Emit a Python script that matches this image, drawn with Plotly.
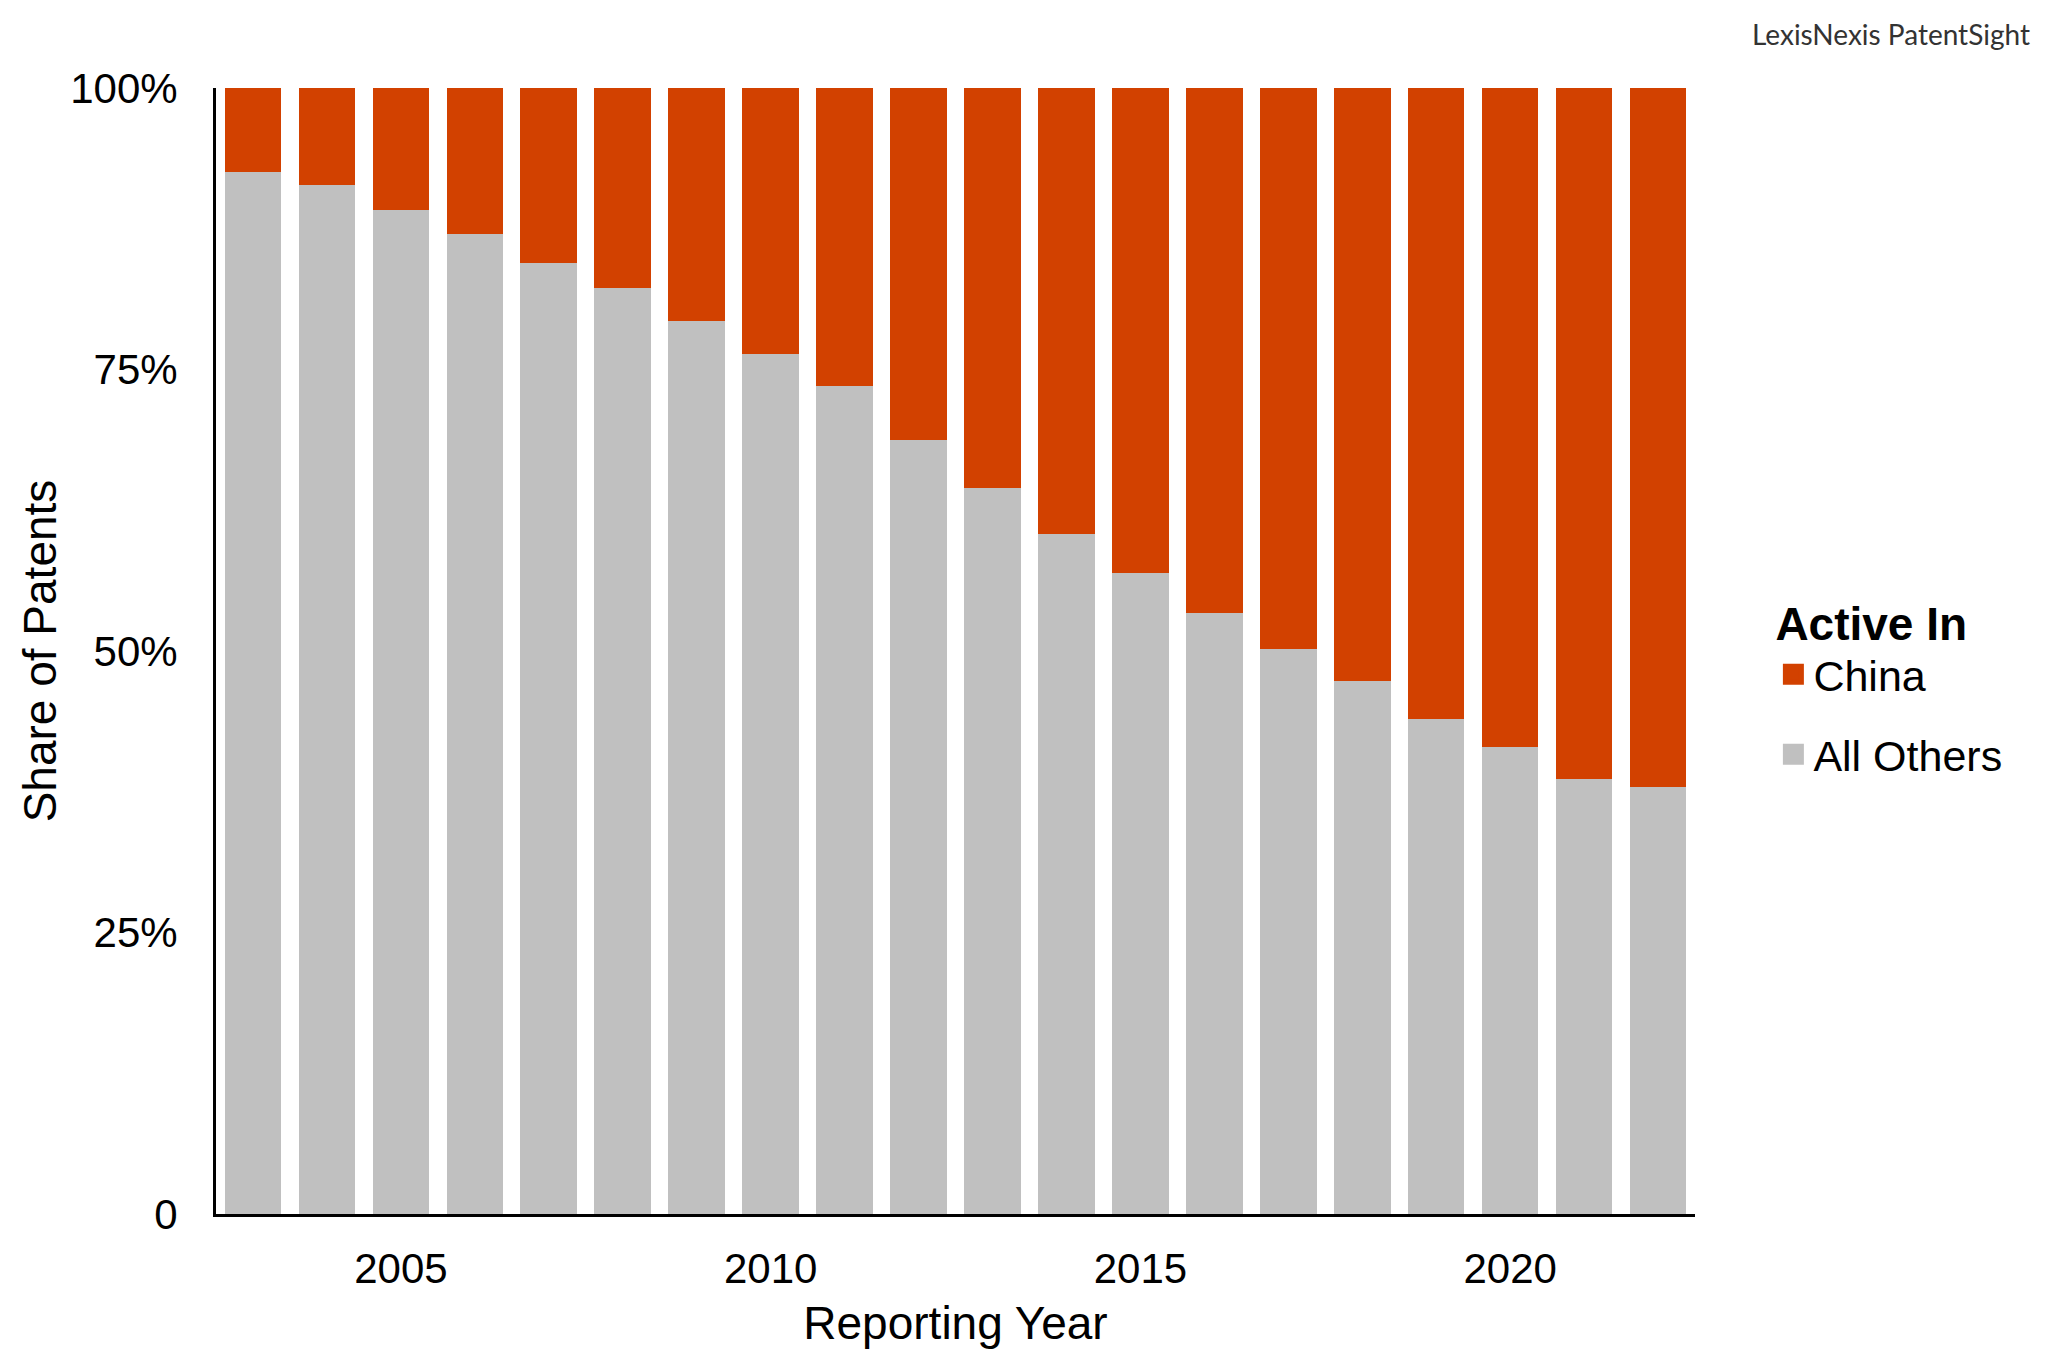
import plotly.graph_objects as go

# values (share of patents, %)
years = list(range(2003, 2023))
all_others = [92.5, 91.4, 89.2, 87.0, 84.5, 82.2, 79.3, 76.4, 73.5, 68.7,
              64.5, 60.4, 56.9, 53.4, 50.2, 47.3, 44.0, 41.5, 38.6, 37.9]
china = [round(100 - v, 1) for v in all_others]

y_ticks = [0, 25, 50, 75, 100]
y_tick_text = ["0", "25%", "50%", "75%", "100%"]
x_ticks = [2005, 2010, 2015, 2020]

ORANGE = "#D24100"
GRAY = "#C0C0C0"
FONT = "Liberation Sans, Arial, sans-serif"

fig = go.Figure()
fig.add_trace(go.Bar(x=years, y=all_others, name="All Others", showlegend=False,
                     marker=dict(color=GRAY, line=dict(width=0))))
fig.add_trace(go.Bar(x=years, y=china, name="China", showlegend=False,
                     marker=dict(color=ORANGE, line=dict(width=0))))

# legend entries with bigger square swatches (no data of their own)
for name, col, grp in [("China", ORANGE, "c"), ("All Others", GRAY, "o")]:
    fig.add_trace(go.Scatter(x=[None], y=[None], mode="markers", name=name,
                             legendgroup=grp,
                             marker=dict(symbol="square", size=16, color=col,
                                         line=dict(color=col, width=5))))

fig.update_layout(
    width=2048, height=1352,
    barmode="stack", bargap=0.235,
    plot_bgcolor="white", paper_bgcolor="white",
    font=dict(family=FONT, size=42, color="black"),
    margin=dict(l=208, r=361, t=80, b=146, autoexpand=False),
    legend=dict(
        title=dict(text="<b>Active In</b>", font=dict(size=46)),
        font=dict(size=43),
        traceorder="grouped",
        tracegroupgap=21,
        x=1.053, xanchor="left", y=0.563, yanchor="top",
        bgcolor="rgba(0,0,0,0)",
    ),
    showlegend=True,
)

fig.update_xaxes(
    range=[2002.5, 2022.5], tickvals=x_ticks, showgrid=False, zeroline=False,
    showline=True, linecolor="black", linewidth=3, ticks="",
    tickfont=dict(size=42), ticklabelstandoff=16,
    title=dict(text="Reporting Year", font=dict(size=46), standoff=16),
)
fig.update_yaxes(
    range=[0, 100], tickvals=y_ticks, ticktext=y_tick_text, showgrid=False,
    zeroline=False, showline=True, linecolor="black", linewidth=3, ticks="",
    tickfont=dict(size=42), ticklabelstandoff=27,
    title=dict(text="Share of Patents", font=dict(size=46), standoff=0),
)

fig.add_annotation(
    text="LexisNexis PatentSight", xref="paper", yref="paper",
    x=1.228, y=1.048, xanchor="right", yanchor="middle", showarrow=False,
    font=dict(family="Lato", size=28, color="#333333"),
)

fig.write_html("out.html")
